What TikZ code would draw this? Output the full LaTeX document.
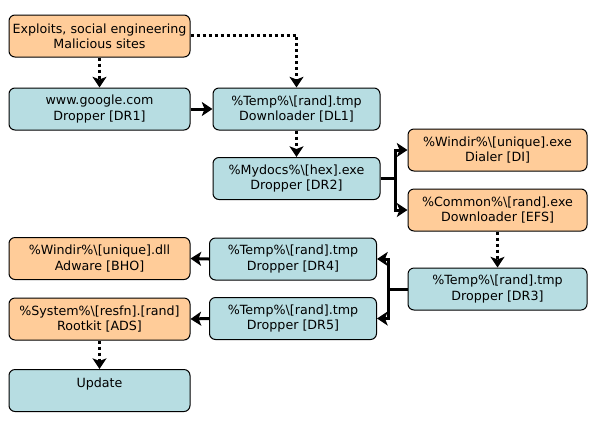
\documentclass[tikz,border=0pt]{standalone}
\usepackage{fontspec}
\setmainfont{DejaVu Sans}
\usetikzlibrary{arrows.meta}
\definecolor{tealbg}{RGB}{183,221,226}
\definecolor{orangebg}{RGB}{255,204,153}
\newcommand{\bs}{\textbackslash}
\begin{document}
\begin{tikzpicture}[x=0.75pt,y=-0.75pt,
  box/.style={draw=black, line width=0.75pt, rounded corners=4.5pt, minimum height=31.5pt,
    inner sep=0pt, align=center, font=\fontsize{9.5}{11.3}\selectfont},
  bbox/.style={box, fill=tealbg},
  obox/.style={box, fill=orangebg},
  wl/.style={minimum width=135.75pt},
  wm/.style={minimum width=125.25pt},
  wr/.style={minimum width=134.25pt},
  conn/.style={line width=2.25pt, -{Stealth[length=8pt,width=10.5pt,inset=2pt]}},
  dconn/.style={conn, dash pattern=on 2.25pt off 2.25pt},
  trunk/.style={line width=2.25pt}]
\useasboundingbox (0,0) rectangle (598,429);
\node[obox,wl] (ex) at (99.5,36) {Exploits, social engineering\\Malicious sites};
\node[bbox,wl] (g) at (99.5,109) {www.google.com\\Dropper [DR1]};
\node[bbox,wm] (dl1) at (296.5,109) {\%Temp\%\bs[rand].tmp\\Downloader [DL1]};
\node[bbox,wm] (dr2) at (296.5,178.5) {\%Mydocs\%\bs[hex].exe\\Dropper [DR2]};
\node[obox,wr] (di) at (497.5,150) {\%Windir\%\bs[unique].exe\\Dialer [DI]};
\node[obox,wr] (efs) at (497.5,210) {\%Common\%\bs[rand].exe\\Downloader [EFS]};
\node[bbox,wr] (dr3) at (497.5,289) {\%Temp\%\bs[rand].tmp\\Dropper [DR3]};
\node[bbox,wm] (dr4) at (293,259) {\%Temp\%\bs[rand].tmp\\Dropper [DR4]};
\node[bbox,wm] (dr5) at (293,318.5) {\%Temp\%\bs[rand].tmp\\Dropper [DR5]};
\node[obox,wl] (bho) at (99.5,258.5) {\%Windir\%\bs[unique].dll\\Adware [BHO]};
\node[obox,wl] (ads) at (99.5,319) {\%System\%\bs[resfn].[rand]\\Rootkit [ADS]};
\node[bbox,wl] (upd) at (99.5,390.5) {Update\\\mbox{}};
\coordinate (t1) at (395,178.5);
\coordinate (t2) at (388,289);
\draw[dconn] (ex.south) -- (g.north);
\draw[dconn] ([yshift=0.75pt]ex.east) -| (dl1.north);
\draw[conn] (g.east) -- (dl1.west);
\draw[dconn] (dl1.south) -- (dr2.north);
\draw[trunk] (dr2.east) -- (t1);
\draw[conn] (t1) |- (di.west);
\draw[conn] (t1) |- (efs.west);
\draw[dconn] (efs.south) -- (dr3.north);
\draw[trunk] (dr3.west) -- (t2);
\draw[conn] (t2) |- (dr4.east);
\draw[conn] (t2) |- (dr5.east);
\draw[conn] (dr4.west) -- (bho.east);
\draw[conn] (dr5.west) -- (ads.east);
\draw[dconn] (ads.south) -- (upd.north);
\end{tikzpicture}
\end{document}
